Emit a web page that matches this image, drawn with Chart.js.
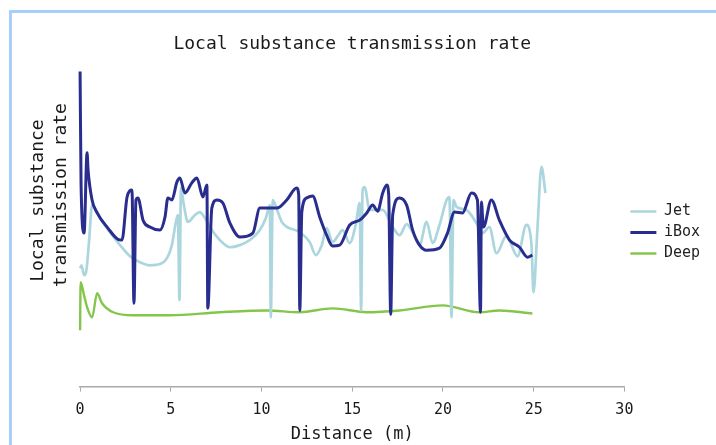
<!DOCTYPE html>
<html>
<head>
<meta charset="utf-8">
<script src="https://cdn.jsdelivr.net/npm/chart.js@4/dist/chart.umd.min.js"></script>
<style>
  body { margin: 0; background: #fff; }
  #frame {
    position: absolute; left: 9px; top: 10px; width: 710px; height: 440px;
    border-top: 3px solid #a7cffb; border-left: 3px solid #a7cffb;
  }
  #chart { position: absolute; left: 0; top: 0; }
</style>
</head>
<body>
<div id="frame"></div>
<canvas id="chart" width="716" height="445"></canvas>
<script>
// Local substance transmission rate along the distance
const xTicks = [0, 5, 10, 15, 20, 25, 30];

const jetDist = [0.00, 0.08, 0.22, 0.33, 0.50, 0.66, 0.88, 1.10, 1.65, 2.20, 2.75, 3.30, 3.85, 4.40, 4.79, 5.06, 5.28, 5.39, 5.48, 5.56,
  5.72, 5.94, 6.33, 6.60, 6.88, 7.15, 7.70, 8.26, 8.81, 9.36, 9.91, 10.24, 10.46, 10.51, 10.62, 10.90, 11.12, 12.11, 12.66, 12.99,
  13.32, 13.59, 13.92, 14.20, 14.47, 14.86, 15.19, 15.41, 15.49, 15.57, 15.68, 15.96, 16.68, 17.23, 17.61, 18.00, 18.33, 18.71, 19.10, 19.43,
  19.81, 20.20, 20.36, 20.47, 20.58, 20.75, 21.30, 21.85, 22.18, 22.56, 22.95, 23.50, 24.11, 24.60, 24.88, 24.99, 25.21, 25.43, 25.65];
const jetRate = [39.3, 40.3, 37.0, 38.0, 48.7, 60.3, 58.7, 56.0, 51.3, 47.0, 43.3, 41.3, 40.3, 40.7, 42.7, 47.0, 54.7, 57.0, 28.7, 66.0,
  60.3, 54.7, 57.0, 58.0, 56.0, 53.0, 48.7, 46.3, 47.0, 48.7, 52.0, 56.0, 60.3, 23.0, 62.0, 58.0, 54.7, 51.3, 48.0, 43.7,
  47.0, 52.7, 48.0, 50.0, 52.0, 47.7, 53.7, 61.0, 25.3, 65.3, 66.3, 58.7, 58.7, 53.0, 50.3, 54.0, 51.3, 47.0, 54.7, 47.7,
  53.7, 62.0, 63.0, 23.0, 62.0, 59.7, 58.7, 54.3, 51.0, 53.0, 44.3, 50.0, 43.3, 53.7, 47.0, 31.3, 52.7, 73.0, 64.3];

const iboxDist = [0.00, 0.055, 0.22, 0.385, 0.44, 0.66, 0.94, 1.49, 2.20, 2.31, 2.59, 2.86, 2.97, 3.08, 3.19, 3.47, 3.85, 4.40, 4.68, 4.84,
  5.06, 5.34, 5.50, 5.78, 6.16, 6.44, 6.77, 6.99, 7.04, 7.26, 7.54, 7.87, 8.26, 8.81, 9.52, 9.91, 10.84, 11.39, 11.94, 12.05,
  12.11, 12.22, 12.49, 12.82, 13.21, 13.59, 13.92, 14.31, 14.86, 15.41, 15.80, 16.13, 16.40, 16.68, 16.90, 17.01, 17.12, 17.23, 17.61, 18.00,
  18.33, 18.71, 19.10, 19.81, 20.25, 20.64, 21.08, 21.57, 21.90, 22.07, 22.12, 22.23, 22.67, 23.11, 23.67, 24.22, 24.66, 24.93];
const iboxRate = [104.7, 67.0, 51.0, 77.7, 72.0, 62.0, 57.7, 53.0, 48.7, 48.7, 63.0, 65.3, 27.7, 62.0, 62.7, 55.3, 53.0, 52.0, 56.3, 62.7,
  62.0, 68.0, 69.3, 64.3, 67.7, 69.3, 63.0, 67.0, 26.0, 59.3, 62.0, 61.0, 54.3, 49.7, 51.0, 59.3, 59.3, 62.0, 66.0, 63.7,
  25.3, 58.0, 62.7, 63.3, 56.3, 50.3, 46.7, 47.0, 53.7, 55.3, 57.7, 60.3, 58.3, 64.3, 67.0, 63.7, 24.0, 57.0, 62.7, 60.3,
  52.0, 47.0, 45.3, 46.0, 51.0, 58.0, 57.7, 64.3, 62.0, 24.7, 61.3, 53.0, 62.0, 55.3, 48.7, 46.3, 43.0, 43.7];

const deepDist = [0.00, 0.03, 0.22, 0.39, 0.66, 0.94, 1.21, 1.82, 2.92, 4.95, 7.70, 10.29, 12.11, 13.92, 15.80, 17.61, 19.98, 22.01, 23.11, 24.93];
const deepRate = [18.7, 34.7, 30.3, 26.3, 23.0, 31.0, 27.7, 24.7, 23.7, 23.7, 24.7, 25.3, 24.7, 26.0, 24.7, 25.3, 27.0, 24.7, 25.3, 24.3];

function toPoints(xs, ys) {
  return xs.map((x, i) => ({ x: x, y: ys[i] }));
}

const mono = 'DejaVu Sans Mono';

new Chart(document.getElementById('chart'), {
  type: 'line',
  data: {
    datasets: [
      { label: 'Jet', data: toPoints(jetDist, jetRate), borderColor: '#acd6dd', backgroundColor: '#acd6dd', borderWidth: 2.7, order: 1 },
      { label: 'iBox', data: toPoints(iboxDist, iboxRate), borderColor: '#282d8e', backgroundColor: '#282d8e', borderWidth: 3, order: 0 },
      { label: 'Deep', data: toPoints(deepDist, deepRate), borderColor: '#84c64c', backgroundColor: '#84c64c', borderWidth: 2.4, order: 2 }
    ]
  },
  options: {
    responsive: false,
    animation: false,
    devicePixelRatio: 1,
    layout: { padding: { left: 19.5, right: 6, top: 0, bottom: 0 } },
    elements: {
      point: { radius: 0 },
      line: { cubicInterpolationMode: 'monotone', fill: false }
    },
    datasets: { line: { clip: false } },
    plugins: {
      tooltip: { enabled: false },
      title: {
        display: true,
        text: 'Local substance transmission rate',
        fullSize: false,
        color: '#1a1a1a',
        font: { family: mono, size: 18, weight: 'normal' },
        padding: { top: 34, bottom: 24 }
      },
      legend: {
        position: 'right',
        title: { display: true, text: '', font: { size: 10 }, padding: 4 },
        labels: {
          usePointStyle: true,
          pointStyle: 'line',
          pointStyleWidth: 26,
          padding: 6,
          color: '#222',
          font: { family: mono, size: 15 },
          sort: (a, b) => a.datasetIndex - b.datasetIndex
        }
      }
    },
    scales: {
      x: {
        type: 'linear',
        min: 0,
        max: 30,
        afterBuildTicks: (scale) => { scale.ticks = xTicks.map(v => ({ value: v })); },
        grid: { display: true, drawOnChartArea: false, drawTicks: true, tickLength: 5, color: '#a9a9a9' },
        border: { display: true, color: '#a9a9a9', width: 1.5 },
        ticks: { color: '#1a1a1a', padding: 10, font: { family: mono, size: 15 } },
        title: {
          display: true,
          text: 'Distance (m)',
          color: '#1a1a1a',
          font: { family: mono, size: 17 },
          padding: { top: -5, bottom: 0 }
        }
      },
      y: {
        min: 0,
        max: 102,
        grid: { display: false, drawTicks: false },
        border: { display: false },
        ticks: { display: false },
        title: {
          display: true,
          text: ['      Local substance', '       transmission rate'],
          color: '#1a1a1a',
          font: { family: mono, size: 18, lineHeight: 1.28 },
          padding: { top: 7.5, bottom: 7 }
        }
      }
    }
  }
});
</script>
</body>
</html>
